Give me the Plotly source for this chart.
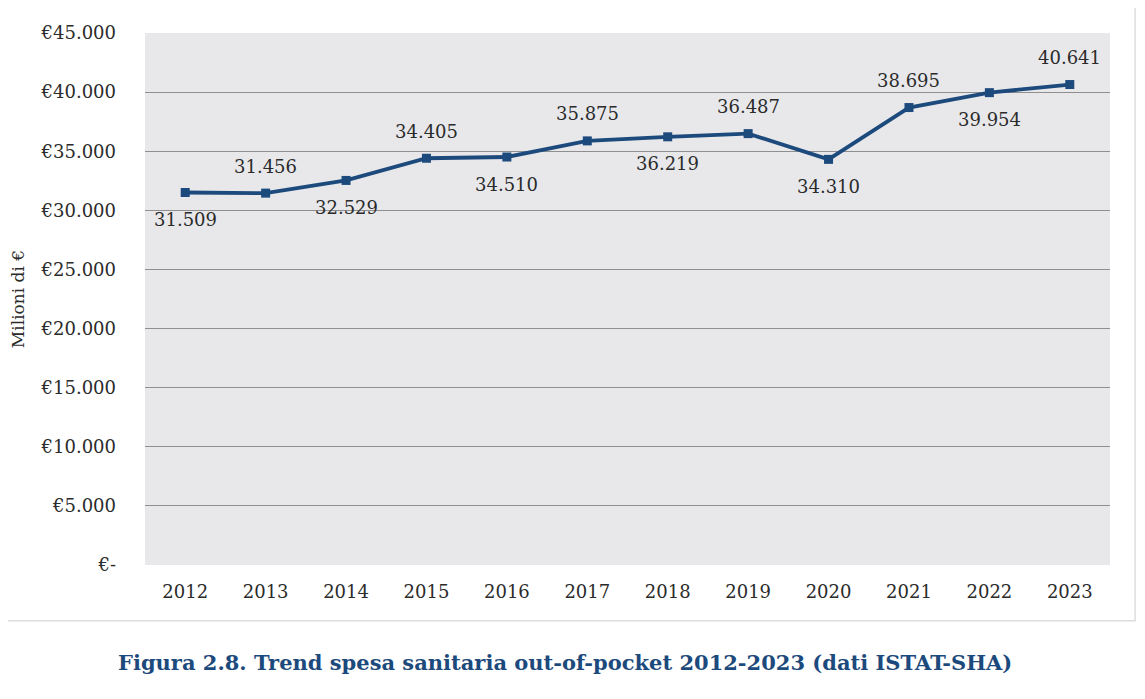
import plotly.graph_objects as go

years = ["2012", "2013", "2014", "2015", "2016", "2017", "2018", "2019", "2020", "2021", "2022", "2023"]
spesa = [31509, 31456, 32529, 34405, 34510, 35875, 36219, 36487, 34310, 38695, 39954, 40641]
labels = ["31.509", "31.456", "32.529", "34.405", "34.510", "35.875", "36.219", "36.487", "34.310", "38.695", "39.954", "40.641"]
label_side = [-1, 1, -1, 1, -1, 1, -1, 1, -1, 1, -1, 1]
tick_vals = [0, 5000, 10000, 15000, 20000, 25000, 30000, 35000, 40000, 45000]
tick_text = ["€-", "€5.000", "€10.000", "€15.000", "€20.000", "€25.000", "€30.000", "€35.000", "€40.000", "€45.000"]

FONT = "DejaVu Serif"
BLUE = "#1d4a7c"
TXT = "#2b2b2b"

fig = go.Figure()
fig.add_trace(go.Scatter(
    x=years, y=spesa, mode="lines+markers",
    line=dict(color=BLUE, width=3.8),
    marker=dict(symbol="square", size=9, color=BLUE),
    cliponaxis=False, showlegend=False,
))

annotations = []
for i, (v, lab, side) in enumerate(zip(spesa, labels, label_side)):
    annotations.append(dict(x=i, y=v, xref="x", yref="y", text=lab, showarrow=False,
                            yshift=27 * side, font=dict(family=FONT, size=18, color=TXT)))

annotations.append(dict(text="<b>Figura 2.8. Trend spesa sanitaria out-of-pocket 2012-2023 (dati ISTAT-SHA)</b>",
                        xref="paper", yref="paper", x=0.435, y=-0.184, yanchor="middle", xanchor="center",
                        showarrow=False, font=dict(family=FONT, size=21, color=BLUE)))

fig.update_layout(
    width=1145, height=699,
    margin=dict(l=137, r=43, t=25, b=142),
    paper_bgcolor="white", plot_bgcolor="#e8e8eb",
    font=dict(family=FONT, color=TXT),
    xaxis=dict(type="category", range=[-0.5, len(years) - 0.5], showgrid=False, showline=False,
               ticks="", automargin=False, ticklabelstandoff=14,
               tickfont=dict(family=FONT, size=18, color=TXT)),
    yaxis=dict(range=[0, 45000], tickvals=tick_vals, ticktext=tick_text, automargin=False,
               showgrid=True, gridcolor="#8f8f8f", gridwidth=1, zeroline=False,
               ticks="", ticklabelstandoff=28,
               tickfont=dict(family=FONT, size=18, color=TXT),
               title=dict(text="Milioni di €", font=dict(family=FONT, size=17, color=TXT),
                          standoff=14)),
    shapes=[dict(type="rect", xref="paper", yref="paper", x0=-0.2, x1=1.026, y0=-0.105, y1=1.2,
                 line=dict(color="#dddddd", width=1.5), fillcolor="rgba(0,0,0,0)", layer="below")],
    annotations=annotations,
)

fig.write_html("out.html")
